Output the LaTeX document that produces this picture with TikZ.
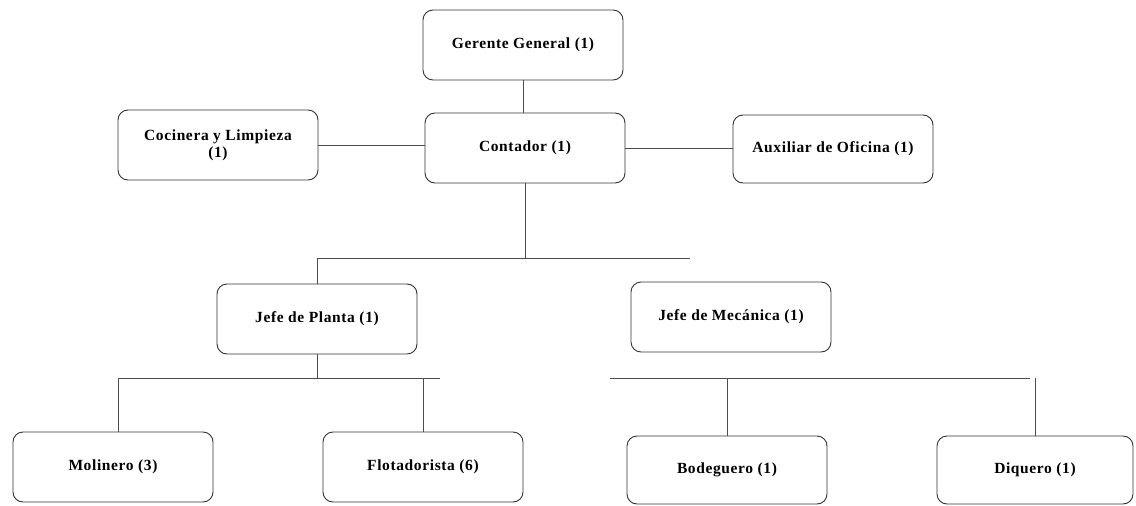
\documentclass[tikz,border=0pt]{standalone}
\usepackage{fontspec}
\setmainfont{Liberation Serif}
\newfontfamily\boxfont[LetterSpace=4]{Liberation Serif}
\begin{document}
\begin{tikzpicture}[x=1pt,y=-1pt,
  box/.style={draw=black!80,line width=0.9pt,rounded corners=10pt,minimum width=200pt,minimum height=70pt,align=center,inner sep=2pt,font=\boxfont\fontsize{15.5}{17}\selectfont\bfseries},
  conn/.style={draw=black!70,line width=0.8pt}]
\useasboundingbox (0,0) rectangle (1136,506);
\node[box] (gg) at (523,45) {Gerente General (1)};
\node[box] (cont) at (525,148) {Contador (1)};
\node[box] (coc) at (218,145) {Cocinera y Limpieza\\(1)};
\node[box,minimum height=68pt] (aux) at (833,149) {Auxiliar de Oficina (1)};
\node[box] (jp) at (317,319) {Jefe de Planta (1)};
\node[box] (jm) at (731,317) {Jefe de Mecánica (1)};
\node[box] (mol) at (113,467) {Molinero (3)};
\node[box] (flot) at (423,467) {Flotadorista (6)};
\node[box,minimum height=68pt] (bod) at (727,470) {Bodeguero (1)};
\node[box,minimum height=68pt,minimum width=196pt] (diq) at (1035,470) {Diquero (1)};
\coordinate (b1L) at (318,258);
\coordinate (b1R) at (690,258);
\coordinate (b2L) at (118,378);
\coordinate (b2R) at (440,378);
\coordinate (b3L) at (610,378);
\coordinate (b3R) at (1030,378);
\draw[conn] (gg.south) -- (gg.south |- cont.north);
\draw[conn] (coc.east) -- (coc.east -| cont.west);
\draw[conn] (cont.east) -- (cont.east -| aux.west);
\draw[conn] (cont.south) -- (cont.south |- b1L);
\draw[conn] (b1L) -- (b1R);
\draw[conn] (jp.north) -- (jp.north |- b1L);
\draw[conn] (jp.south) -- (jp.south |- b2L);
\draw[conn] (b2L) -- (b2R);
\draw[conn] (b2L) -- (b2L |- mol.north);
\draw[conn] (flot.north) -- (flot.north |- b2L);
\draw[conn] (b3L) -- (b3R);
\draw[conn] (bod.north) -- (bod.north |- b3L);
\draw[conn] (diq.north) -- (diq.north |- b3L);
\end{tikzpicture}
\end{document}
